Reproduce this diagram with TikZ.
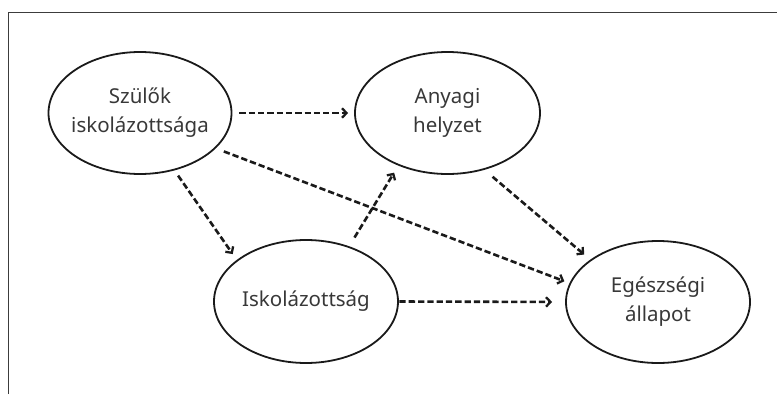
\documentclass[tikz,border=0pt]{standalone}
\usepackage{fontspec}
\setmainfont{Noto Sans}
\usetikzlibrary{shapes.geometric,arrows.meta}
\definecolor{linec}{HTML}{1A1A1A}
\definecolor{textc}{HTML}{383838}
\tikzset{
  ell/.style={draw=linec, line width=1.8pt, ellipse, inner sep=0pt},
  lbl/.style={text=textc, align=center, inner sep=0pt, font=\fontsize{20.5}{29}\selectfont},
  dasharrow/.style={draw=linec, line width=2.6pt, dash pattern=on 6.3pt off 3pt,
    -{Straight Barb[length=4.5pt,width=9.5pt,line width=2.3pt]}},
  frame/.style={draw=linec!85, line width=1.3pt}
}
\begin{document}
\begin{tikzpicture}[x=1pt,y=-1pt]
\useasboundingbox (0,0) rectangle (777,394);
% frame (top and left edges only)
\coordinate (fbl) at (8.3,394);
\coordinate (ftl) at (8.3,12.3);
\coordinate (ftr) at (777,12.3);
\draw[frame] (fbl) -- (ftl) -- (ftr);
% ellipses
\node[ell, minimum width=183pt, minimum height=122pt] (sz) at (140,113) {};
\node[ell, minimum width=185pt, minimum height=122pt] (an) at (447.5,113) {};
\node[ell, minimum width=184pt, minimum height=123pt] (is) at (306,301.5) {};
\node[ell, minimum width=184pt, minimum height=122pt] (eg) at (658,302) {};
% labels
\node[lbl] (szt) at (sz) {Szülők\\iskolázottsága};
\node[lbl] (ant) at (an) {Anyagi\\helyzet};
\node[lbl] (ist) at (is) {Iskolázottság};
\node[lbl] (egt) at (eg) {Egészségi\\állapot};
% connectors
\draw[dasharrow, shorten <=7pt, shorten >=6pt] (sz.0) -- (an.180);
\draw[dasharrow, shorten <=6.3pt, shorten >=7.1pt] (sz.-59.5) -- (is.149.4);
\draw[dasharrow, shorten <=8.6pt, shorten >=5.5pt] (sz.-25.9) -- (eg.168.4);
\draw[dasharrow, shorten <=10.2pt, shorten >=8.2pt] (is.52.9) -- (an.227.3);
\draw[dasharrow, shorten <=10.7pt, shorten >=7.9pt] (an.-57.05) -- (eg.148);
\draw[dasharrow, shorten <=0.5pt, shorten >=13pt] (is.0) -- (eg.180);
\end{tikzpicture}
\end{document}
